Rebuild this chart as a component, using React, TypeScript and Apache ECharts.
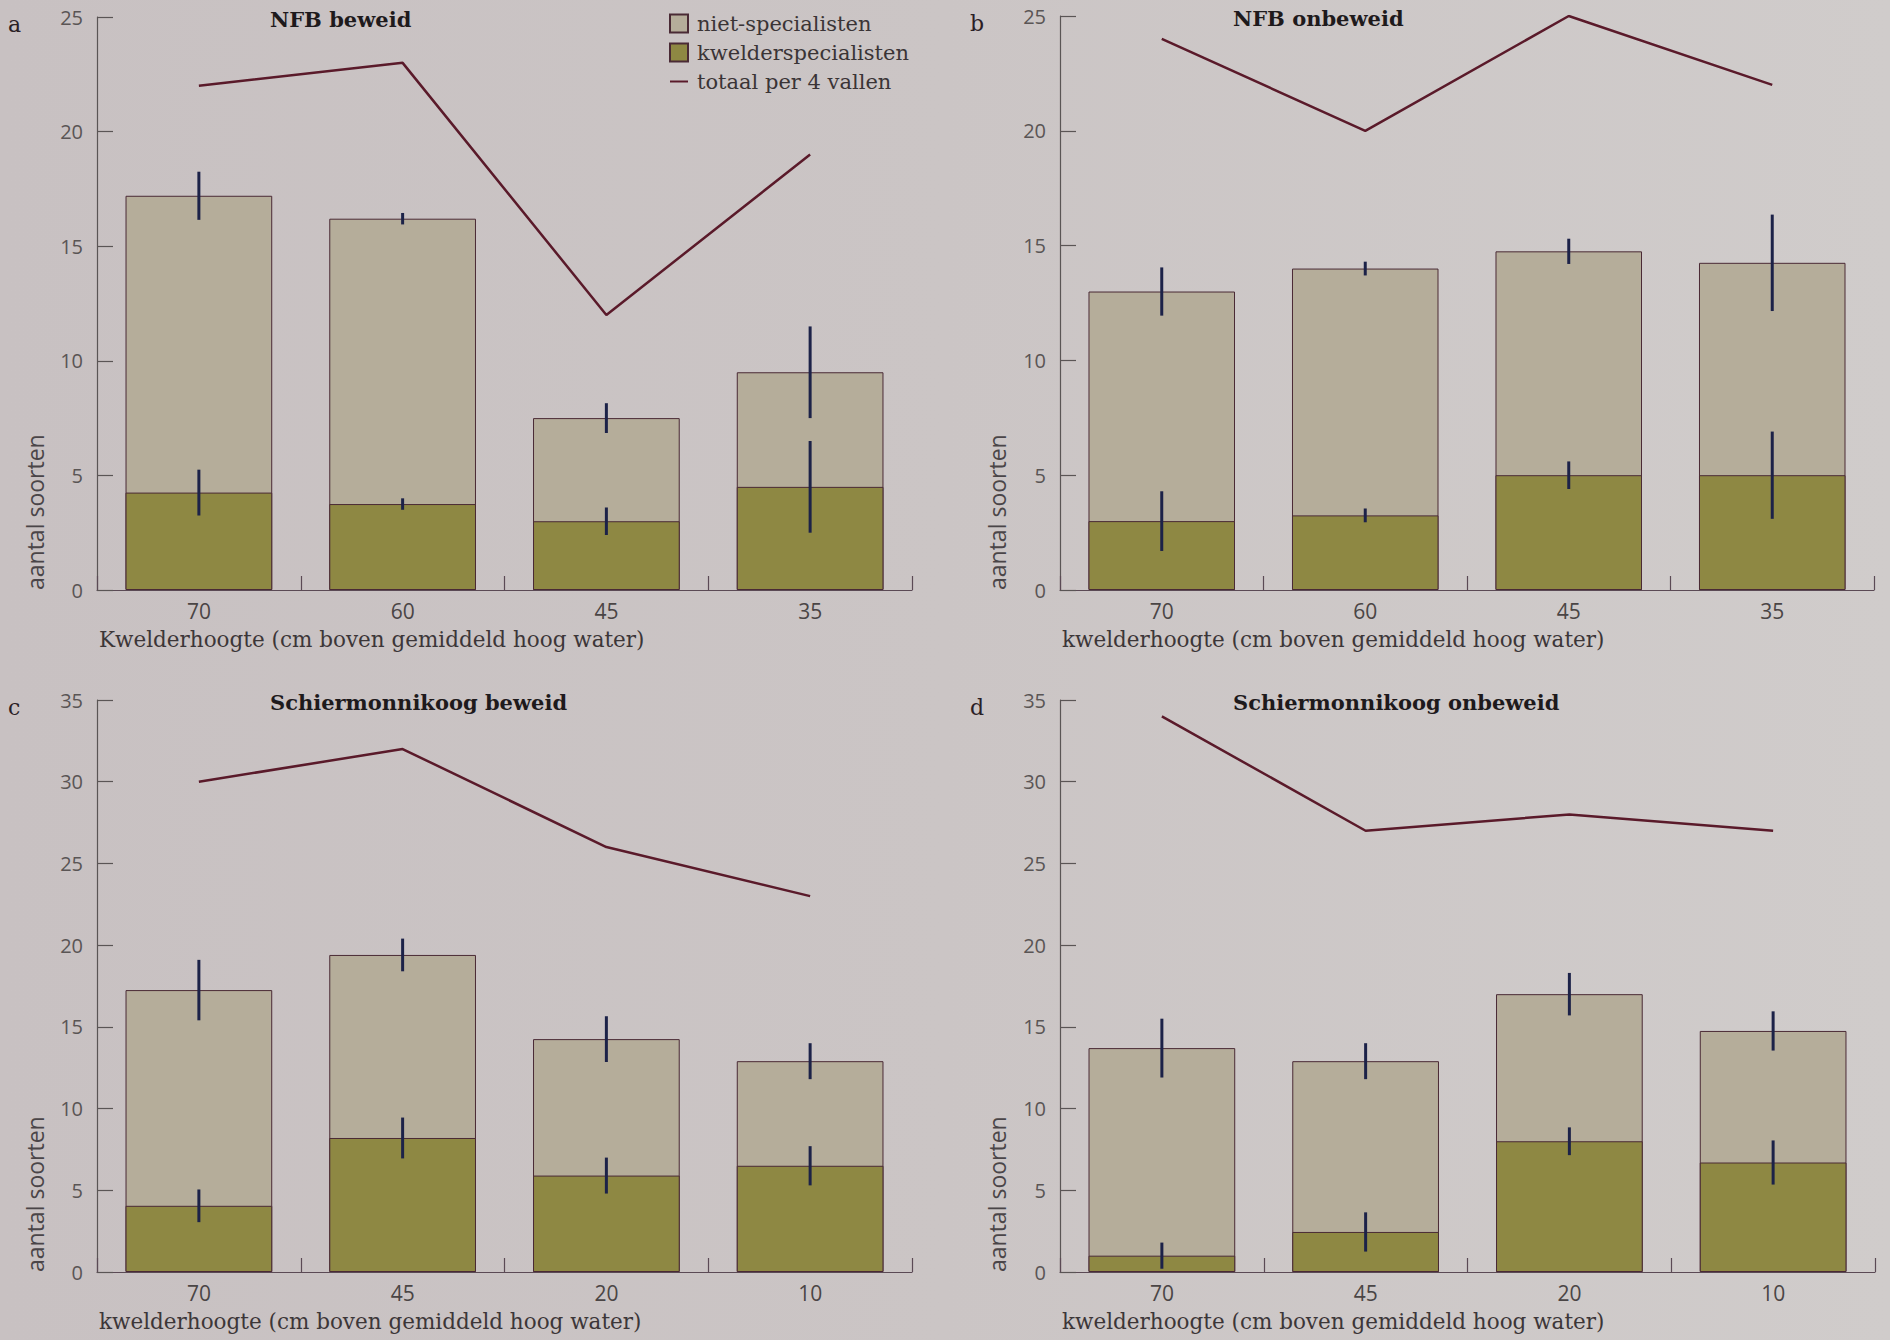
import React, { useEffect, useRef } from "react";
import * as echarts from "echarts";

// ---- data ----
const categoriesNFB = ["70", "60", "45", "35"];
const categoriesSchier = ["70", "45", "20", "10"];

const titles = ["NFB beweid", "NFB onbeweid", "Schiermonnikoog beweid", "Schiermonnikoog onbeweid"];
const letters = ["a", "b", "c", "d"];

// niet-specialisten bar = total mean number of species (bar top)
const totalA = [17.2, 16.2, 7.5, 9.5];
const totalErrA = [1.05, 0.25, 0.65, 2.0];
const kwelderA = [4.25, 3.75, 3.0, 4.5];
const kwelderErrA = [1.0, 0.25, 0.6, 2.0];
const lineA = [22, 23, 12, 19];

const totalB = [13.0, 14.0, 14.75, 14.25];
const totalErrB = [1.05, 0.3, 0.55, 2.1];
const kwelderB = [3.0, 3.25, 5.0, 5.0];
const kwelderErrB = [1.3, 0.3, 0.6, 1.9];
const lineB = [24, 20, 25, 22];

const totalC = [17.25, 19.4, 14.25, 12.9];
const totalErrC = [1.85, 1.0, 1.4, 1.1];
const kwelderC = [4.05, 8.2, 5.9, 6.5];
const kwelderErrC = [1.0, 1.25, 1.1, 1.2];
const lineC = [30, 32, 26, 23];

const totalD = [13.7, 12.9, 17.0, 14.75];
const totalErrD = [1.8, 1.1, 1.3, 1.2];
const kwelderD = [1.0, 2.45, 8.0, 6.7];
const kwelderErrD = [0.8, 1.2, 0.85, 1.35];
const lineD = [34, 27, 28, 27];

const yMax = [25, 25, 35, 35];
const xAxisNames = [
  "Kwelderhoogte (cm boven gemiddeld hoog water)",
  "kwelderhoogte (cm boven gemiddeld hoog water)",
  "kwelderhoogte (cm boven gemiddeld hoog water)",
  "kwelderhoogte (cm boven gemiddeld hoog water)",
];
const yAxisName = "aantal soorten";
const legendNames = ["niet-specialisten", "kwelderspecialisten", "totaal per 4 vallen"];

// ---- styling / layout ----
const grids = [
  { left: 97, top: 17, width: 815, height: 573 },
  { left: 1060, top: 16, width: 814, height: 574 },
  { left: 97, top: 700, width: 815, height: 572 },
  { left: 1060, top: 700, width: 815, height: 572 },
];
const GRAY = "#b5ad9a";
const OLIVE = "#8e8843";
const LINE = "#5a1a2a";
const ERR = "#1c2248";
const BORDER = "#4a2a35";
const SERIF = "'DejaVu Serif', 'Liberation Serif', serif";
const SANS = "'Open Sans', 'Noto Sans', sans-serif";

function buildOption() {
  const panels = [
    { cats: categoriesNFB, total: totalA, totalErr: totalErrA, kw: kwelderA, kwErr: kwelderErrA, line: lineA },
    { cats: categoriesNFB, total: totalB, totalErr: totalErrB, kw: kwelderB, kwErr: kwelderErrB, line: lineB },
    { cats: categoriesSchier, total: totalC, totalErr: totalErrC, kw: kwelderC, kwErr: kwelderErrC, line: lineC },
    { cats: categoriesSchier, total: totalD, totalErr: totalErrD, kw: kwelderD, kwErr: kwelderErrD, line: lineD },
  ];

  const xAxis: any[] = [];
  const yAxis: any[] = [];
  const series: any[] = [];
  const graphic: any[] = [];

  const errRender = (params: any, api: any) => {
    const i = api.value(0);
    const lo = api.coord([i, api.value(1)]);
    const hi = api.coord([i, api.value(2)]);
    return {
      type: "line",
      shape: { x1: lo[0], y1: lo[1], x2: hi[0], y2: hi[1] },
      style: { stroke: ERR, lineWidth: 3 },
    };
  };

  panels.forEach((p, gi) => {
    xAxis.push({
      type: "category",
      gridIndex: gi,
      data: p.cats,
      boundaryGap: true,
      axisLine: { show: true, lineStyle: { color: "#5b4a55", width: 1.2 } },
      axisTick: { show: true, inside: true, length: 14, lineStyle: { color: "#5b4a55", width: 1.2 } },
      axisLabel: { fontSize: 21, color: "#4a4545", margin: 10, fontFamily: SANS },
    });
    yAxis.push({
      type: "value",
      gridIndex: gi,
      min: 0,
      max: yMax[gi],
      interval: 5,
      axisLine: { show: true, lineStyle: { color: "#5a5555", width: 1.2 } },
      axisTick: { show: true, inside: true, length: 16, lineStyle: { color: "#5a5555", width: 1.2 } },
      splitLine: { show: false },
      axisLabel: { fontSize: 20, color: "#5a5555", margin: 14, fontFamily: SANS },
    });
    series.push({
      name: legendNames[0],
      type: "bar",
      xAxisIndex: gi,
      yAxisIndex: gi,
      data: p.total,
      barWidth: "72%",
      barGap: "-100%",
      itemStyle: { color: GRAY, borderColor: BORDER, borderWidth: 1 },
      z: 2,
    });
    series.push({
      name: legendNames[1],
      type: "bar",
      xAxisIndex: gi,
      yAxisIndex: gi,
      data: p.kw,
      barWidth: "72%",
      barGap: "-100%",
      itemStyle: { color: OLIVE, borderColor: BORDER, borderWidth: 1 },
      z: 3,
    });
    series.push({
      name: legendNames[2],
      type: "line",
      xAxisIndex: gi,
      yAxisIndex: gi,
      data: p.line,
      symbol: "none",
      lineStyle: { color: LINE, width: 2.5 },
      itemStyle: { color: LINE },
      z: 5,
    });
    series.push({
      type: "custom",
      name: "fout-tot-" + gi,
      xAxisIndex: gi,
      yAxisIndex: gi,
      renderItem: errRender,
      data: p.total.map((v, i) => [i, v - p.totalErr[i], v + p.totalErr[i]]),
      z: 6,
    });
    series.push({
      type: "custom",
      name: "fout-kw-" + gi,
      xAxisIndex: gi,
      yAxisIndex: gi,
      renderItem: errRender,
      data: p.kw.map((v, i) => [i, v - p.kwErr[i], v + p.kwErr[i]]),
      z: 6,
    });

    const g = grids[gi];
    graphic.push({
      type: "text",
      left: gi % 2 === 0 ? 8 : 970,
      top: g.top - 4,
      style: { text: letters[gi], font: `22px ${SERIF}`, fill: "#2a2025" },
    });
    graphic.push({
      type: "text",
      left: gi % 2 === 0 ? 270 : 1233,
      top: g.top - 8,
      style: { text: titles[gi], font: `bold 21px ${SERIF}`, fill: "#1e1a1c" },
    });
    graphic.push({
      type: "text",
      x: g.left + 2,
      y: g.top + g.height + 49,
      style: {
        text: xAxisNames[gi],
        font: `21.5px ${SERIF}`,
        fill: "#3c3638",
        textAlign: "left",
        textVerticalAlign: "middle",
      },
    });
    graphic.push({
      type: "text",
      x: gi % 2 === 0 ? 35 : 997,
      y: g.top + g.height,
      rotation: Math.PI / 2,
      style: {
        text: yAxisName,
        font: `23px ${SANS}`,
        fill: "#4a4548",
        textAlign: "left",
        textVerticalAlign: "middle",
      },
    });
  });

  return {
    animation: false,
    backgroundColor: "transparent",
    grid: grids.map((g) => ({ ...g, containLabel: false })),
    legend: {
      data: [
        { name: legendNames[0], icon: "rect" },
        { name: legendNames[1], icon: "rect" },
        { name: legendNames[2], icon: "path://M0,0H20V2.2H0Z", itemStyle: { color: LINE } },
      ],
      orient: "vertical",
      left: 664,
      top: 8,
      itemWidth: 18,
      itemHeight: 18,
      itemGap: 8,
      textStyle: { fontFamily: SERIF, fontSize: 21, lineHeight: 18, color: "#3a3436", padding: [0, 0, 0, 4] },
    },
    xAxis,
    yAxis,
    series,
    graphic,
  };
}

export default function App() {
  const ref = useRef<HTMLDivElement>(null);
  useEffect(() => {
    if (!ref.current) return;
    const chart = echarts.init(ref.current, undefined, { renderer: "svg" });
    chart.setOption(buildOption() as any);
    return () => chart.dispose();
  }, []);
  return (
    <div
      style={{
        position: "fixed",
        left: 0,
        top: 0,
        width: 1890,
        height: 1340,
        background: "linear-gradient(90deg, #c8c1c2 0%, #cbc5c5 50%, #d0cccb 100%)",
      }}
    >
      <div ref={ref} style={{ width: 1890, height: 1340 }} />
    </div>
  );
}
